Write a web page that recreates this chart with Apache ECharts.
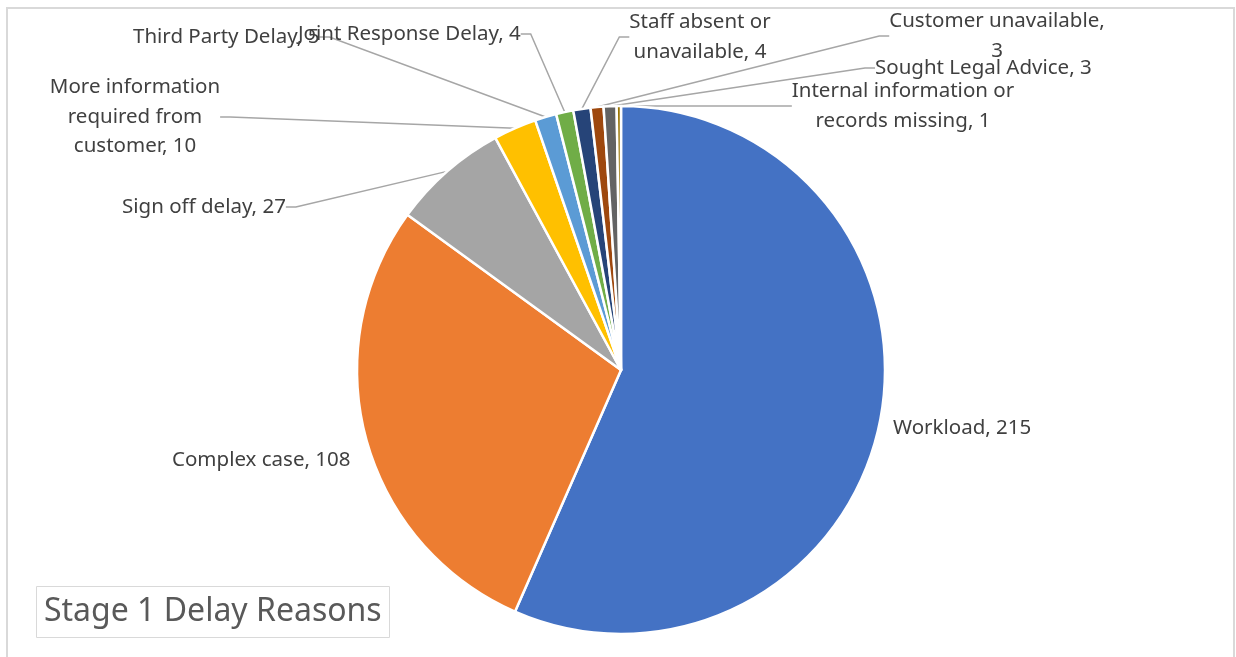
<!DOCTYPE html>
<html>
<head>
<meta charset="utf-8">
<script src="https://cdn.jsdelivr.net/npm/echarts@6/dist/echarts.min.js"></script>
<style>
html,body{margin:0;padding:0;background:#fff;}
#frame{position:absolute;left:6px;top:7px;width:1229px;height:700px;border:2px solid #d9d9d9;box-sizing:border-box;}
#chart{position:absolute;left:0;top:0;width:1236px;height:657px;}
</style>
</head>
<body>
<div id="frame"></div>
<div id="chart"></div>
<script>
const categories = ["Workload", "Complex case", "Sign off delay", "More information required from customer", "Third Party Delay", "Joint Response Delay", "Staff absent or unavailable", "Customer unavailable", "Sought Legal Advice", "Internal information or records missing"];
const values = [215, 108, 27, 10, 5, 4, 4, 3, 3, 1];
const labelTexts = ["Workload, 215", "Complex case, 108", "Sign off delay, 27", "More information\nrequired from\ncustomer, 10", "Third Party Delay, 5", "Joint Response Delay, 4", "Staff absent or\nunavailable, 4", "Customer unavailable,\n3", "Sought Legal Advice, 3", "Internal information or\nrecords missing, 1"];
const colors = ["#4472C4", "#ED7D31", "#A5A5A5", "#FFC000", "#5B9BD5", "#70AD47", "#264478", "#9E480E", "#636363", "#997300"];
const labelPos = [
  {x: 893, y: 428, align: 'left'},
  {x: 172, y: 460, align: 'left'},
  {x: 122, y: 207, align: 'left'},
  {x: 135, y: 117, align: 'center'},
  {x: 133, y: 37, align: 'left'},
  {x: 298, y: 34, align: 'left'},
  {x: 700, y: 37, align: 'center'},
  {x: 997, y: 36, align: 'center'},
  {x: 875, y: 68, align: 'left'},
  {x: 903, y: 106, align: 'center'}
];
const noLine = [0, 1];

const chart = echarts.init(document.getElementById('chart'), null, {renderer: 'canvas'});
const data = categories.map((c, i) => ({
  name: c,
  value: values[i],
  itemStyle: {color: colors[i]},
  labelLine: {show: noLine.indexOf(i) < 0}
}));
chart.setOption({
  animation: false,
  title: {
    text: 'Stage 1 Delay Reasons',
    left: 36, top: 586,
    padding: [8, 8, 8, 8],
    borderColor: '#d9d9d9', borderWidth: 1,
    textStyle: {fontFamily: 'Noto Sans', fontSize: 32, fontWeight: 'normal', color: '#595959', lineHeight: 36}
  },
  series: [{
    type: 'pie',
    center: [621, 370],
    radius: 264,
    startAngle: 90,
    clockwise: true,
    avoidLabelOverlap: false,
    itemStyle: {borderColor: '#fff', borderWidth: 2.5},
    label: {
      show: true,
      formatter: p => labelTexts[p.dataIndex],
      fontFamily: 'Noto Sans', fontSize: 20.5, color: '#404040', lineHeight: 29.5
    },
    labelLine: {show: true, lineStyle: {color: '#a6a6a6', width: 1.5}, length: 10, length2: 10},
    labelLayout: function (params) {
      const p = labelPos[params.dataIndex];
      return {x: p.x, y: p.y, align: p.align, verticalAlign: 'middle'};
    },
    data: data
  }]
});
</script>
</body>
</html>
